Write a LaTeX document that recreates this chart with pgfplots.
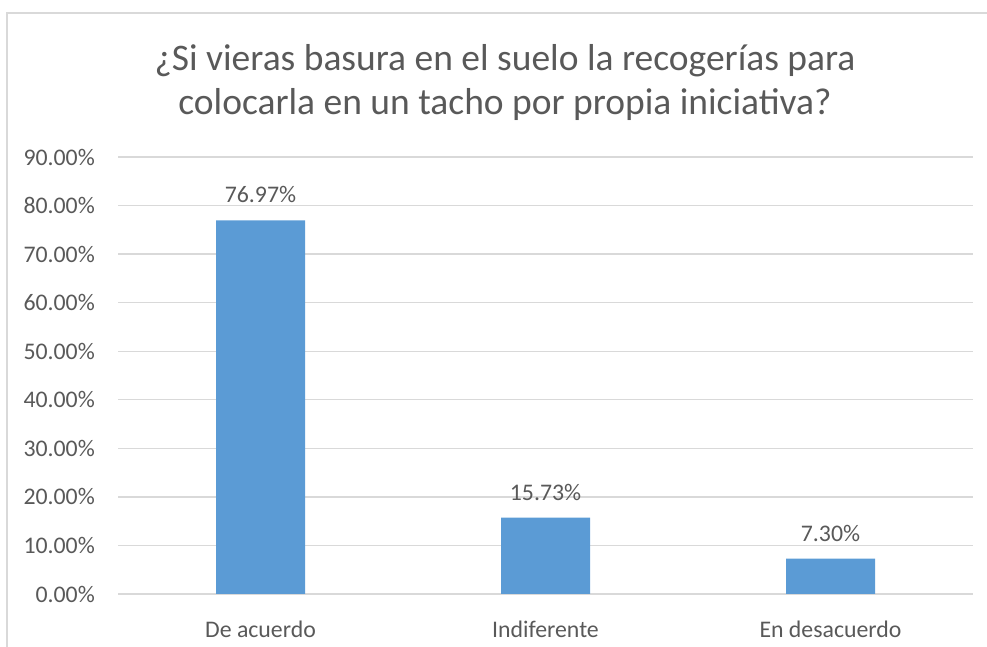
\documentclass[border=0pt]{standalone}
\usepackage{pgfplots}
\pgfplotsset{compat=1.18}
\usepackage{fontspec}
\setmainfont{Carlito}
\definecolor{txt}{HTML}{595959}
\definecolor{barblue}{HTML}{5B9BD5}
\definecolor{grid}{HTML}{D9D9D9}
\begin{document}
\begin{tikzpicture}[x=1pt,y=1pt]
\useasboundingbox (0,0) rectangle (987,647);
\draw[grid, line width=1.4pt] (7,-10) -- (7,634) -- (1000,634);
\node[anchor=base, text=txt, font=\fontsize{37.5}{44}\selectfont] at (505,576) {¿Si vieras basura en el suelo la recogerías para};
\node[anchor=base, text=txt, font=\fontsize{37.5}{44}\selectfont] at (505,532) {colocarla en un tacho por propia iniciativa?};
\begin{axis}[
  at={(118pt,53pt)}, anchor=south west,
  scale only axis, width=855pt, height=437pt,
  xmin=-0.5, xmax=2.5, ymin=0, ymax=90,
  xtick={0,1,2}, xticklabels={De acuerdo,Indiferente,En desacuerdo},
  ytick={0,10,...,90},
  yticklabel={\pgfmathprintnumber[fixed,fixed zerofill,precision=2]{\tick}\%},
  /pgf/number format/assume math mode=true,
  axis line style={draw=none},
  tick style={draw=none},
  xmajorgrids=false, ymajorgrids=true,
  y grid style={grid, line width=1.4pt},
  ticklabel style={font=\fontsize{23.8}{28}\selectfont, text=txt},
  yticklabel style={anchor=east, inner sep=0pt, xshift=-23pt},
  xticklabel style={anchor=base, inner sep=0pt, yshift=-39pt},
  ybar, bar width=89pt,
  nodes near coords={\pgfmathprintnumber[fixed,fixed zerofill,precision=2]{\pgfplotspointmeta}\%},
  nodes near coords style={font=\fontsize{23.8}{28}\selectfont, text=txt, inner sep=0pt, yshift=17pt},
  point meta=y,
  clip=false,
]
\addplot[fill=barblue, draw=none] coordinates {(0,76.97) (1,15.73) (2,7.30)};
\end{axis}
\end{tikzpicture}
\end{document}
